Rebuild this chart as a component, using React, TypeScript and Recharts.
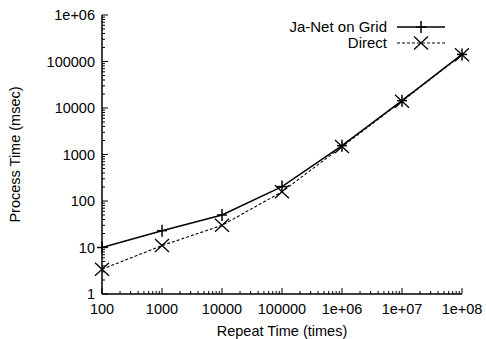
import { LineChart, Line, XAxis, YAxis } from 'recharts';

const repeatTimes = [100, 1000, 10000, 100000, 1e6, 1e7, 1e8];
const jaNetTimes = [10, 23, 50, 204, 1550, 14400, 142000];
const directTimes = [3.4, 11, 30, 158, 1480, 14000, 140000];
const xTickLabels = ['100', '1000', '10000', '100000', '1e+06', '1e+07', '1e+08'];
const yTickLabels = ['1', '10', '100', '1000', '10000', '100000', '1e+06'];
const xDecades = [100, 1000, 10000, 100000, 1e6, 1e7, 1e8];
const yDecades = [1, 10, 100, 1000, 10000, 100000, 1e6];
const minorSteps = [2, 3, 4, 5, 6, 7, 8, 9];

const data = repeatTimes.map((x, i) => ({ x, jaNet: jaNetTimes[i], direct: directTimes[i] }));

const withMinor = (decades: number[]) =>
  decades.flatMap((d, i) => (i < decades.length - 1 ? [d, ...minorSteps.map((k) => d * k)] : [d]));

const xTicks = withMinor(xDecades);
const yTicks = withMinor(yDecades);

const FONT = '"Liberation Sans", Arial, Helvetica, sans-serif';
const FS = 14.5;
const MAJOR = 6;
const MINOR = 3;

const isMajor = (v: number) => Math.abs(Math.log10(v) - Math.round(Math.log10(v))) < 1e-9;

function AxisTick(props: any) {
  const { x, y, payload, side } = props;
  const v = payload.value;
  const major = isMajor(v);
  const len = major ? MAJOR : MINOR;
  const p = Math.round(Math.log10(v));
  if (side === 'bottom') {
    return (
      <g>
        <line x1={x} y1={y} x2={x} y2={y - len} stroke="#000" strokeWidth={1} />
        {major && (
          <text x={x} y={y + 20} textAnchor="middle" fontSize={FS} fontFamily={FONT} fill="#000">
            {xTickLabels[p - 2]}
          </text>
        )}
      </g>
    );
  }
  if (side === 'top') {
    return <line x1={x} y1={y} x2={x} y2={y + len} stroke="#000" strokeWidth={1} />;
  }
  if (side === 'left') {
    return (
      <g>
        <line x1={x} y1={y} x2={x + len} y2={y} stroke="#000" strokeWidth={1} />
        {major && (
          <text x={x - 7} y={y + 5} textAnchor="end" fontSize={FS} fontFamily={FONT} fill="#000">
            {yTickLabels[p]}
          </text>
        )}
      </g>
    );
  }
  return <line x1={x} y1={y} x2={x - len} y2={y} stroke="#000" strokeWidth={1} />;
}

function PlusMark({ cx, cy }: { cx: number; cy: number }) {
  return (
    <g stroke="#000" strokeWidth={1.5}>
      <line x1={cx - 5} y1={cy} x2={cx + 5} y2={cy} />
      <line x1={cx} y1={cy - 6} x2={cx} y2={cy + 6} />
    </g>
  );
}

function CrossMark({ cx, cy }: { cx: number; cy: number }) {
  return (
    <g stroke="#000" strokeWidth={1.3}>
      <line x1={cx - 7} y1={cy - 6.5} x2={cx + 7} y2={cy + 6.5} />
      <line x1={cx - 7} y1={cy + 6.5} x2={cx + 7} y2={cy - 6.5} />
    </g>
  );
}

const axisLine = { stroke: '#000', strokeWidth: 1.5 };

export default function App() {
  return (
    <div style={{ position: 'absolute', left: 0, top: 0, width: 486, height: 339, background: '#fff' }}>
      <LineChart width={486} height={339} data={data} margin={{ top: 15, right: 24, bottom: 0, left: 0 }}>
        <XAxis
          dataKey="x"
          type="number"
          scale="log"
          domain={[100, 1e8]}
          ticks={xTicks}
          interval={0}
          height={45}
          tickSize={0}
          tickMargin={0}
          axisLine={axisLine}
          tick={(p: any) => <AxisTick {...p} side="bottom" />}
          label={{
            value: 'Repeat Time (times)',
            position: 'insideBottom',
            offset: 3,
            style: { fontSize: FS, fontFamily: FONT, fill: '#000' },
          }}
        />
        <XAxis
          xAxisId="top"
          orientation="top"
          dataKey="x"
          type="number"
          scale="log"
          domain={[100, 1e8]}
          ticks={xTicks}
          interval={0}
          height={0}
          tickSize={0}
          tickMargin={0}
          axisLine={axisLine}
          tick={(p: any) => <AxisTick {...p} side="top" />}
        />
        <YAxis
          type="number"
          scale="log"
          domain={[1, 1e6]}
          ticks={yTicks}
          interval={0}
          width={102}
          tickSize={0}
          tickMargin={0}
          axisLine={axisLine}
          tick={(p: any) => <AxisTick {...p} side="left" />}
          label={{
            value: 'Process Time (msec)',
            angle: -90,
            position: 'insideLeft',
            offset: 15,
            style: { fontSize: FS, fontFamily: FONT, fill: '#000', textAnchor: 'middle' },
          }}
        />
        <YAxis
          yAxisId="right"
          orientation="right"
          type="number"
          scale="log"
          domain={[1, 1e6]}
          ticks={yTicks}
          interval={0}
          width={0}
          tickSize={0}
          tickMargin={0}
          axisLine={axisLine}
          tick={(p: any) => <AxisTick {...p} side="right" />}
        />
        <Line
          dataKey="direct"
          stroke="#000"
          strokeWidth={1.1}
          strokeDasharray="3 2"
          isAnimationActive={false}
          dot={(p: any) => <CrossMark key={`d-${p.index}`} cx={p.cx} cy={p.cy} />}
        />
        <Line
          dataKey="jaNet"
          stroke="#000"
          strokeWidth={1.5}
          isAnimationActive={false}
          dot={(p: any) => <PlusMark key={`j-${p.index}`} cx={p.cx} cy={p.cy} />}
        />
      </LineChart>
      <svg width={486} height={339} style={{ position: 'absolute', left: 0, top: 0, pointerEvents: 'none' }}>
        <text x={387} y={32} textAnchor="end" fontSize={15} fontFamily={FONT} fill="#000">
          Ja-Net on Grid
        </text>
        <line x1={397} y1={27} x2={445} y2={27} stroke="#000" strokeWidth={1.5} />
        <PlusMark cx={421} cy={27} />
        <text x={387} y={48} textAnchor="end" fontSize={15} fontFamily={FONT} fill="#000">
          Direct
        </text>
        <line x1={397} y1={43} x2={445} y2={43} stroke="#000" strokeWidth={1.1} strokeDasharray="3 2" />
        <CrossMark cx={421} cy={43} />
      </svg>
    </div>
  );
}
